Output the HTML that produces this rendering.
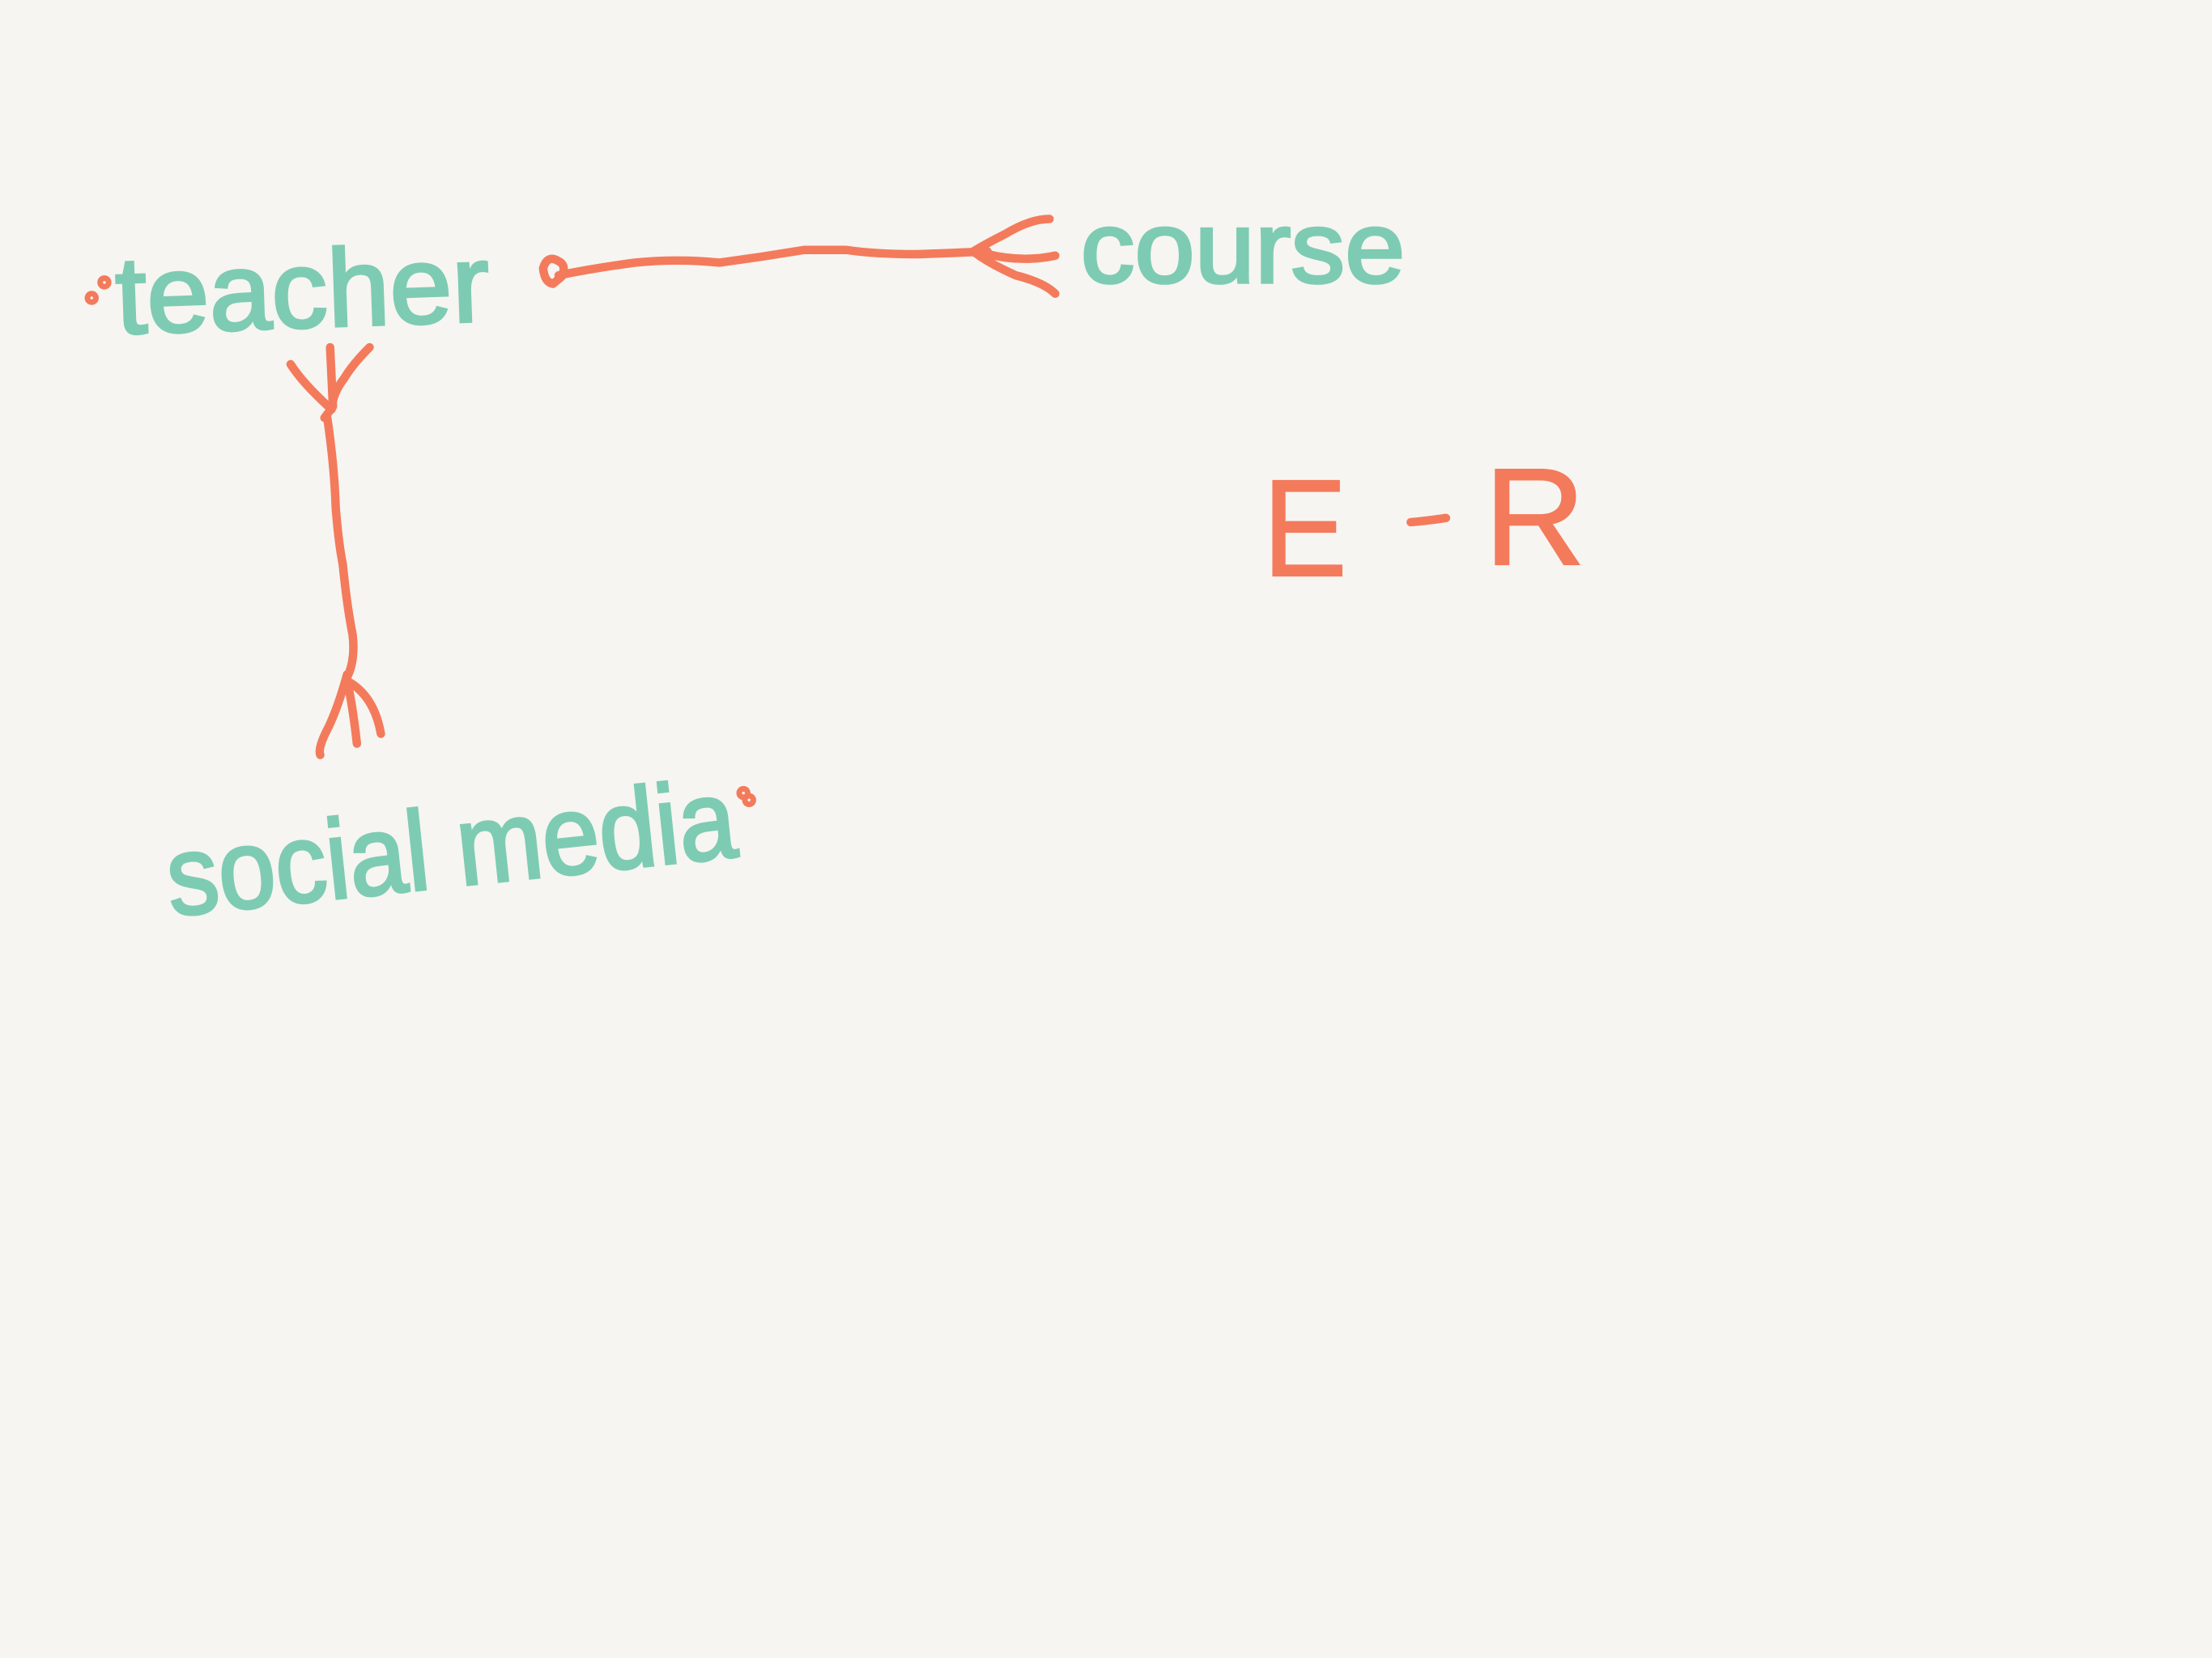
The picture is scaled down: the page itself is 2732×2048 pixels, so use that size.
<!DOCTYPE html>
<html><head><meta charset="utf-8"><style>
html,body{margin:0;padding:0;background:#f6f5f1;}
svg{display:block;}
text{font-family:"Liberation Sans",sans-serif;}
</style></head><body>
<svg width="2732" height="2048" viewBox="0 0 1568 1175" xmlns="http://www.w3.org/2000/svg">
<rect width="1568" height="1175" fill="#f6f5f1"/>
<g fill="none" stroke="#f47a5c" stroke-width="6" stroke-linecap="round" stroke-linejoin="round">
<circle cx="65" cy="211" r="2"/>
<circle cx="74" cy="200" r="2"/>
<path d="M385 190 Q388 180 396 185 Q402 188 398 196 L392 201 Q386 200 385 190"/>
<path d="M396 195 Q420 190 450 186 Q480 183 510 186 Q540 182 570 177 L600 177 Q620 180 650 180 Q680 179 700 178"/>
<path d="M744 155 Q730 155 712 166 Q700 172 690 178 Q700 186 720 195 Q740 200 748 208"/>
<path d="M700 180 Q725 186 748 181"/>
<path d="M234 246 L236 288 L230 296"/>
<path d="M206 258 Q215 272 235 290"/>
<path d="M262 246 Q250 258 244 268 Q236 278 235 290"/>
<path d="M232 296 Q237 330 238 360 Q240 385 243 400 Q246 430 250 450 Q252 468 246 480"/>
<path d="M246 478 Q240 500 233 515 Q225 530 227 535"/>
<path d="M246 482 Q250 500 253 527"/>
<path d="M245 482 Q265 492 270 520"/>
<circle cx="527" cy="562" r="2"/>
<circle cx="531" cy="567" r="2"/>
<path d="M1000 370 Q1012 369 1025 367"/>
</g>
<g fill="#f47a5c" stroke="#f47a5c" stroke-width="1">
<text x="895" y="408" font-size="98" textLength="60" lengthAdjust="spacingAndGlyphs">E</text>
<text x="1052" y="400" font-size="98" textLength="72" lengthAdjust="spacingAndGlyphs">R</text>
</g>
<g fill="#7ecbb3" stroke="#7ecbb3" stroke-width="2">
<text x="82" y="232" font-size="78" textLength="265" lengthAdjust="spacingAndGlyphs" transform="rotate(-2 210 210)">teacher</text>
<text x="766" y="200" font-size="72" textLength="230" lengthAdjust="spacingAndGlyphs">course</text>
<text x="115" y="628" font-size="80" textLength="405" lengthAdjust="spacingAndGlyphs" transform="rotate(-6 320 580)">social media</text>
</g>
</svg>
</body></html>
